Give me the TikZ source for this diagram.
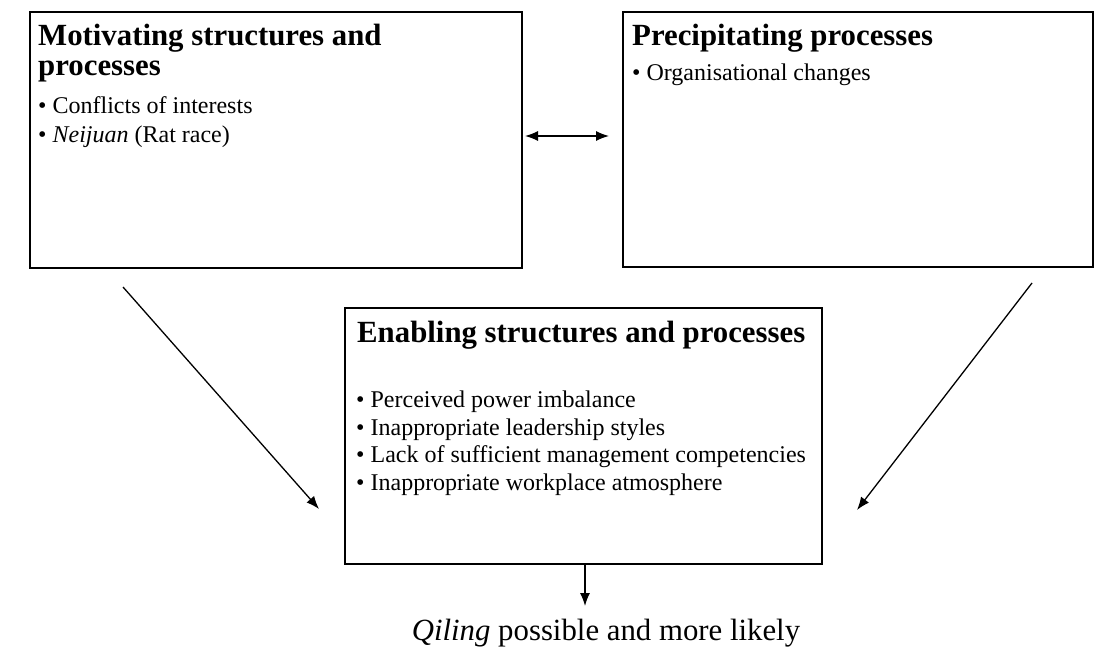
\documentclass[tikz,border=0pt]{standalone}
\usepackage{fontspec}
\setmainfont{Liberation Serif}
\usetikzlibrary{arrows.meta}
\begin{document}
\begin{tikzpicture}[x=1pt,y=-1pt,
  frame/.style={draw, line width=1.2pt, inner sep=0pt, outer sep=0pt},
  headtext/.style={anchor=base west, inner sep=0pt, font=\fontsize{30.8}{34}\selectfont\bfseries},
  itemtext/.style={anchor=base west, inner sep=0pt, font=\fontsize{24}{28}\selectfont},
  tip/.tip={Latex[length=13pt,width=10pt]},
  conn/.style={line width=1.3pt, -tip},
  bothconn/.style={line width=1.3pt, tip-tip}]
\useasboundingbox (0,0) rectangle (1108,648);

% three framed boxes
\node[frame, minimum width=492pt, minimum height=256pt] (mot) at (276,140) {};
\node[frame, minimum width=470pt, minimum height=255pt] (pre) at (858,139.5) {};
\node[frame, minimum width=477pt, minimum height=256pt] (ena) at (583.5,436) {};

% motivating structures and processes
\node[headtext] (motH1) at (38,45) {Motivating structures and};
\node[headtext] (motH2) at (38,75) {processes};
\node[itemtext] (mot1) at (38,113) {• Conflicts of interests};
\node[itemtext] (mot2) at (38,142) {• \textit{Neijuan} (Rat race)};

% precipitating processes
\node[headtext] (preH) at (632,45) {Precipitating processes};
\node[itemtext] (pre1) at (632,80) {• Organisational changes};

% enabling structures and processes
\node[headtext] (enaH) at (357,342) {Enabling structures and processes};
\node[itemtext] (ena1) at (356,407) {• Perceived power imbalance};
\node[itemtext] (ena2) at (356,435) {• Inappropriate leadership styles};
\node[itemtext] (ena3) at (356,462) {• Lack of sufficient management competencies};
\node[itemtext] (ena4) at (356,490) {• Inappropriate workplace atmosphere};

% outcome
\node[anchor=base, inner sep=0pt, font=\fontsize{30.8}{34}\selectfont] (out) at (606,640) {\textit{Qiling} possible and more likely};

% connectors
\coordinate (dl) at (525,136);
\coordinate (dr) at (609,136);
\draw[bothconn] (dl) -- (dr);

\coordinate (ls) at (123,287);
\coordinate (le) at (319,509);
\draw[conn] (ls) -- (le);

\coordinate (rs) at (1032,283);
\coordinate (re) at (857,510);
\draw[conn] (rs) -- (re);

\coordinate (oe) at (585,606);
\draw[conn] (ena.south -| oe) -- (oe);
\end{tikzpicture}
\end{document}
